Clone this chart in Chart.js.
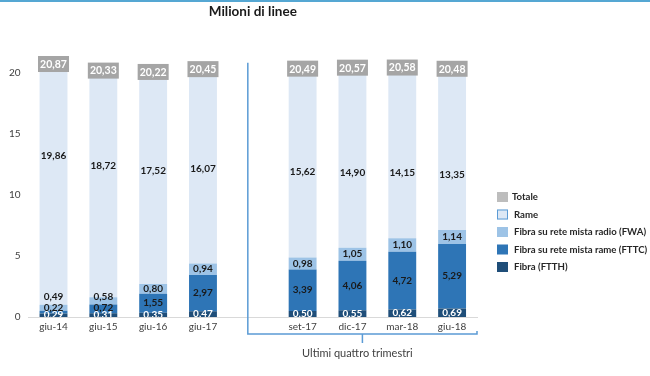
<!DOCTYPE html>
<html>
<head>
<meta charset="utf-8">
<script src="https://cdn.jsdelivr.net/npm/chart.js@4/dist/chart.umd.min.js"></script>
<style>
html,body{margin:0;padding:0;background:#fff;}
#wrap{width:650px;height:376px;position:relative;}
</style>
</head>
<body>
<div id="wrap"><canvas id="c" width="650" height="376"></canvas></div>
<script>
// ---- data ----
const categories = ['giu-14','giu-15','giu-16','giu-17','','set-17','dic-17','mar-18','giu-18'];
const ftth   = [0.29, 0.31, 0.35, 0.47, null, 0.50, 0.55, 0.62, 0.69];
const fttc   = [0.22, 0.72, 1.55, 2.97, null, 3.39, 4.06, 4.72, 5.29];
const fwa    = [0.49, 0.58, 0.80, 0.94, null, 0.98, 1.05, 1.10, 1.14];
const rame   = [19.86, 18.72, 17.52, 16.07, null, 15.62, 14.90, 14.15, 13.35];
const totale = [20.87, 20.33, 20.22, 20.45, null, 20.49, 20.57, 20.58, 20.48];
const yTicks = [0, 5, 10, 15, 20];
const groupLabel = 'Ultimi quattro trimestri';
const chartTitle = 'Milioni di linee';

// ---- style ----
const COLORS = {
  ftth: '#1F4E79', fttc: '#2E75B6', fwa: '#9DC3E6', rame: '#DDE8F5',
  rameBorder: '#5B9BD5', totale: '#A5A5A5', legendTot: '#BDBDBD',
  bracket: '#5B9BD5', text: '#1a1a1a', axisText: '#404040'
};
const FONT = 'Lato, "Open Sans", sans-serif';
const labelGaps = [0, 7, 11];                 // min spacing between stacked labels
const rameLabelLevel = [13.2, 12.4, 12.0, 12.1, null, 11.9, 11.8, 11.8, 11.65]; // label placement (axis units)

const fmt = v => v.toFixed(2).replace('.', ',');

const labelPlugin = {
  id: 'segLabels',
  afterDatasetsDraw(chart) {
    const ctx = chart.ctx, ys = chart.scales.y, area = chart.chartArea;
    const series = [ftth, fttc, fwa];
    for (let i = 0; i < categories.length; i++) {
      if (totale[i] == null) continue;
      let prev = null;
      for (let d = 0; d < 3; d++) {
        const el = chart.getDatasetMeta(d).data[i];
        let yc = (el.y + el.base) / 2;
        if (prev !== null) yc = Math.min(yc, prev - labelGaps[d]);
        prev = yc;
        ctx.save();
        if (d === 0) {
          ctx.beginPath();
          ctx.rect(area.left, area.top, area.right - area.left, area.bottom - area.top);
          ctx.clip();
        }
        ctx.fillStyle = d === 0 ? '#ffffff' : COLORS.text;
        ctx.font = 'bold 10px ' + FONT;
        ctx.textAlign = 'center';
        ctx.textBaseline = 'middle';
        ctx.fillText(fmt(series[d][i]), el.x, yc);
        ctx.restore();
      }
      // Rame label
      const elR = chart.getDatasetMeta(3).data[i];
      ctx.save();
      ctx.fillStyle = COLORS.text;
      ctx.font = 'bold 10px ' + FONT;
      ctx.textAlign = 'center';
      ctx.textBaseline = 'middle';
      ctx.fillText(fmt(rame[i]), elR.x, ys.getPixelForValue(rameLabelLevel[i]));
      // Totale box
      const yTop = ys.getPixelForValue(totale[i]);
      const bw = 31, bh = 16;
      ctx.fillStyle = COLORS.totale;
      ctx.fillRect(elR.x - bw / 2, yTop + 2 - bh / 2, bw, bh);
      ctx.fillStyle = '#ffffff';
      ctx.font = 'bold 10.5px ' + FONT;
      ctx.fillText(fmt(totale[i]), elR.x, yTop + 2.5);
      ctx.restore();
    }
  },
  afterDraw(chart) {
    const ctx = chart.ctx, xs = chart.scales.x, ys = chart.scales.y, area = chart.chartArea;
    ctx.save();
    // top rule
    ctx.fillStyle = '#55A7D3';
    ctx.fillRect(0, 0, chart.width, 2);
    // bracket
    const step = xs.getPixelForValue(1) - xs.getPixelForValue(0);
    const xL = xs.getPixelForValue(4) - step * 0.1;
    const xR = area.right;
    const yB = area.bottom + 17;
    const yT = ys.getPixelForValue(20.8);
    ctx.strokeStyle = COLORS.bracket;
    ctx.lineWidth = 1.5;
    ctx.beginPath();
    ctx.moveTo(xL, yT);
    ctx.lineTo(xL, yB);
    ctx.lineTo(xR, yB);
    ctx.lineTo(xR, yB - 3);
    ctx.stroke();
    const xm = (xL + xR) / 2;
    ctx.beginPath();
    ctx.moveTo(xm, yB);
    ctx.lineTo(xm, yB + 9);
    ctx.stroke();
    ctx.fillStyle = COLORS.axisText;
    ctx.font = '11px ' + FONT;
    ctx.textAlign = 'center';
    ctx.textBaseline = 'middle';
    ctx.fillText(groupLabel, xm - 5, yB + 19);
    // legend
    const ds = chart.data.datasets;
    const order = [4, 3, 2, 1, 0];
    const lx = area.right + 20;
    order.forEach((di, k) => {
      const yy = 197 + k * 17.5;
      const d = ds[di];
      ctx.fillStyle = di === 4 ? COLORS.legendTot : d.backgroundColor;
      ctx.fillRect(lx, yy - 5, 11, 10);
      if (di === 3) {
        ctx.strokeStyle = COLORS.rameBorder;
        ctx.lineWidth = 1;
        ctx.strokeRect(lx + 0.5, yy - 4.5, 10, 9);
      }
      ctx.fillStyle = '#262626';
      ctx.font = 'bold 9.6px ' + FONT;
      ctx.textAlign = 'left';
      ctx.fillText(d.label, lx + (di === 4 ? 15 : 17), yy);
    });
    ctx.restore();
  }
};

new Chart(document.getElementById('c'), {
  type: 'bar',
  data: {
    labels: categories,
    datasets: [
      { label: 'Fibra (FTTH)', data: ftth, backgroundColor: COLORS.ftth },
      { label: 'Fibra su rete mista rame (FTTC)', data: fttc, backgroundColor: COLORS.fttc },
      { label: 'Fibra su rete mista radio (FWA)', data: fwa, backgroundColor: COLORS.fwa },
      { label: 'Rame', data: rame, backgroundColor: COLORS.rame },
      { label: 'Totale', data: categories.map(() => null), backgroundColor: COLORS.totale }
    ]
  },
  options: {
    responsive: false,
    animation: false,
    devicePixelRatio: 1,
    layout: { padding: { left: 1, right: 173, top: 0, bottom: 39 } },
    datasets: { bar: { barPercentage: 0.56, categoryPercentage: 1.0, borderWidth: 0 } },
    plugins: {
      legend: { display: false },
      tooltip: { enabled: false },
      title: {
        display: true, text: chartTitle, fullSize: false,
        color: '#1a1a1a', font: { family: FONT, size: 13.5, weight: 'bold' },
        padding: { top: 4, bottom: 28 }
      }
    },
    scales: {
      x: {
        stacked: true,
        grid: { display: false, drawTicks: false },
        border: { display: true, color: '#D9D9D9', width: 1 },
        ticks: { color: COLORS.axisText, font: { family: FONT, size: 10 }, padding: 4, maxRotation: 0, autoSkip: false }
      },
      y: {
        stacked: true, min: 0, max: 22,
        grid: { display: false, drawTicks: false },
        border: { display: false },
        afterBuildTicks(axis) { axis.ticks = yTicks.map(v => ({ value: v })); },
        ticks: { color: COLORS.axisText, font: { family: FONT, size: 10 }, padding: 8 }
      }
    }
  },
  plugins: [labelPlugin]
});
</script>
</body>
</html>
